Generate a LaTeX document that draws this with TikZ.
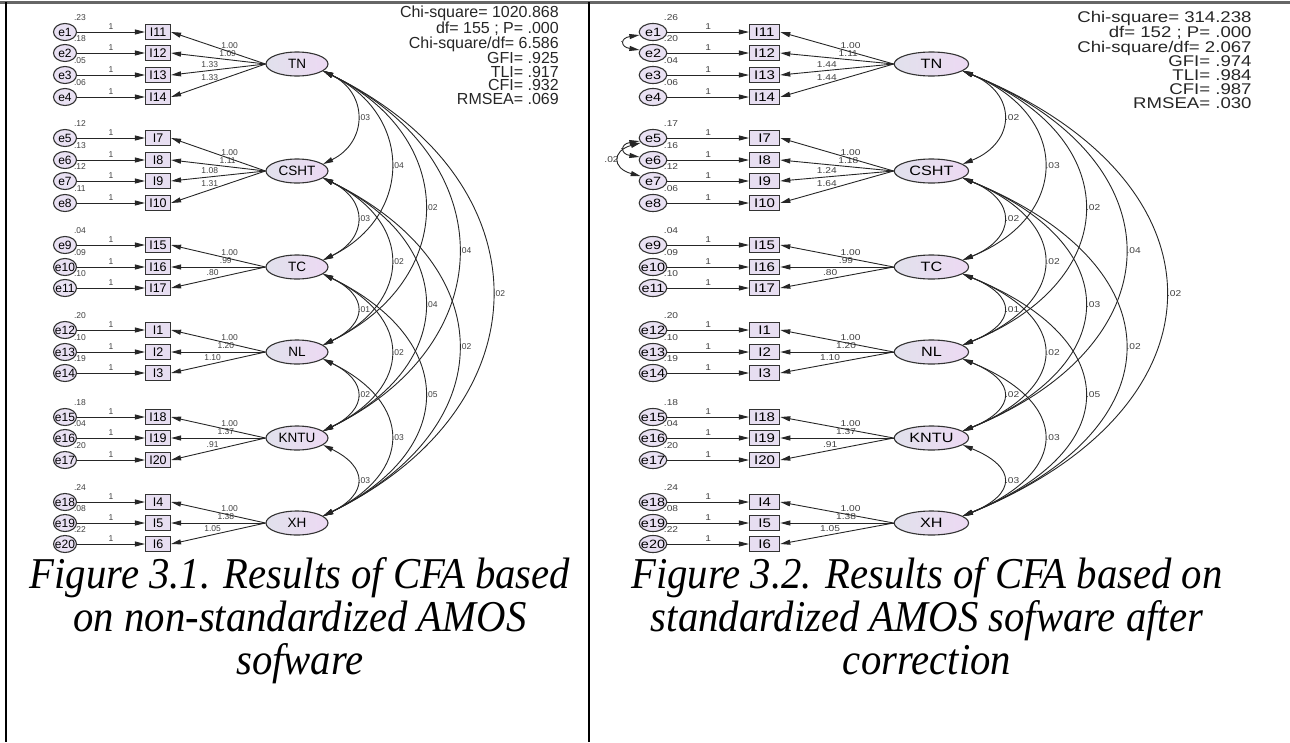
\documentclass[tikz,border=0pt]{standalone}
\usepackage{fontspec}
\setmainfont{Liberation Serif}
\setsansfont{Liberation Sans}
\usetikzlibrary{shapes.geometric,arrows.meta}

\definecolor{errfill}{HTML}{E9E1F3}
\definecolor{itemfill}{HTML}{E7DEF1}
\definecolor{latleft}{HTML}{E1E1EC}
\definecolor{latright}{HTML}{EDD9F3}
\definecolor{edge}{HTML}{333333}

\newcommand{\ez}[1]{\makebox[0pt]{#1}}

\tikzset{
	num/.style = {font=\sffamily\fontsize{8.5}{9}\selectfont, text=black!75, inner sep=1pt},
	err/.style = {ellipse, draw=edge, line width=1.1pt, fill=errfill, minimum width=23, minimum height=17, inner sep=0pt, font=\sffamily\fontsize{12}{12}\selectfont},
	item/.style = {rectangle, draw=edge, line width=1.1pt, fill=itemfill, minimum width=25, minimum height=15, inner sep=1pt, font=\sffamily\fontsize{12.5}{12.5}\selectfont},
	latent/.style = {ellipse, draw=edge, line width=1.1pt, left color=latleft, right color=latright, minimum width=62, minimum height=24, inner sep=0pt, font=\sffamily\fontsize{13.5}{13.5}\selectfont},
	link/.style = {-{Triangle[length=10pt,width=5pt]}, line width=0.9pt, black!85},
	cov/.style = {{Triangle[length=10pt,width=5pt]}-{Triangle[length=10pt,width=5pt]}, line width=0.9pt, black!85},
	stats/.style = {font=\sffamily\fontsize{16}{13.5}\selectfont, align=right, inner sep=0pt, anchor=north east, text=black!85},
	caption/.style = {font=\rmfamily\itshape\fontsize{44}{43}\selectfont, align=center, inner sep=0pt, anchor=north, xscale=0.925}
}

% one AMOS model: #1 prefix, #2 errors, #3 loadings, #4 covariances
\newcommand{\cfamodel}[4]{%
	% factors
	\foreach \fac/\yy in {TN/64,CSHT/171,TC/267,NL/352,KNTU/438,XH/523}
		\node[latent] (#1\fac) at (297,\yy) {\fac};
	% error variances (under the circles)
	\foreach \nr/\yy/\ind/\var in {#2}
		\node[num] at (80,\yy-14) {\var};
	% errors and items
	\foreach \nr/\yy/\ind/\var in {#2}{
		\node[err] (#1e\nr) at (65,\yy) {\ez{e\nr}};
		\node[item] (#1\ind) at (158,\yy) {\ind};
		\draw[link] (#1e\nr) -- node[num, above=1.5pt] {1} (#1\ind);
	}
	% loadings
	\foreach \ind/\fac/\lod/\pp in {#3}
		\draw[link] (#1\fac.west) -- node[num, above=1.5pt, pos=\pp] {\lod} (#1\ind.east);
	% covariances
	\foreach \fa/\fb/\st/\cv in {#4}
		\draw[cov] (#1\fa.-15) .. controls +(45*\st,22*\st) and +(45*\st,-22*\st) .. node[num, right] {\cv} (#1\fb.15);
}

\begin{document}
\begin{tikzpicture}[x=1pt, y=-1pt]
	\useasboundingbox (0,0) rectangle (1290,742);
	
	%	table frame
	\draw[line width=3pt, black!60] (0,2) -- (1290,2);
	\draw[line width=2pt] (6,2) -- (6,742);
	\draw[line width=1.5pt] (589,2) -- (589,742);
	
	%	non-standardized model
	\cfamodel{L}{1/32/I11/.23, 2/53/I12/.18, 3/75/I13/.05, 4/97/I14/.06,
		5/138/I7/.12, 6/160/I8/.13, 7/181/I9/.12, 8/203/I10/.11,
		9/245/I15/.04, 10/267/I16/.09, 11/288/I17/.10,
		12/330/I1/.20, 13/352/I2/.10, 14/373/I3/.19,
		15/417/I18/.18, 16/438/I19/.04, 17/460/I20/.20,
		18/502/I4/.24, 19/523/I5/.08, 20/544/I6/.22}
	{I11/TN/1.00/.38, I12/TN/1.09/.40, I13/TN/1.33/.59, I14/TN/1.33/.59,
		I7/CSHT/1.00/.38, I8/CSHT/1.11/.40, I9/CSHT/1.08/.59, I10/CSHT/1.31/.59,
		I15/TC/1.00/.38, I16/TC/.99/.42, I17/TC/.80/.56,
		I1/NL/1.00/.38, I2/NL/1.20/.42, I3/NL/1.10/.56,
		I18/KNTU/1.00/.38, I19/KNTU/1.37/.42, I20/KNTU/.91/.56,
		I4/XH/1.00/.38, I5/XH/1.38/.42, I6/XH/1.05/.56}
	{TN/CSHT/1/.03, TN/TC/2/.04, TN/NL/3/.02, TN/KNTU/4/.04, TN/XH/5/.02,
		CSHT/TC/1/.03, CSHT/NL/2/.02, CSHT/KNTU/3/.04, CSHT/XH/4/.02,
		TC/NL/1/.01, TC/KNTU/2/.02, TC/XH/3/.05,
		NL/KNTU/1/.02, NL/XH/2/.03, KNTU/XH/1/.03}
	\node[stats] (Lfit) at (559,6) {Chi-square= 1020.868\\df= 155 ; P= .000\\Chi-square/df= 6.586\\GFI= .925\\TLI= .917\\CFI= .932\\RMSEA= .069};
	
	%	standardized model after correction
	\begin{scope}[shift={(575,0)}, xscale=1.2, transform shape]
		\cfamodel{R}{1/32/I11/.26, 2/53/I12/.20, 3/75/I13/.04, 4/97/I14/.06,
			5/138/I7/.17, 6/160/I8/.16, 7/181/I9/.12, 8/203/I10/.06,
			9/245/I15/.04, 10/267/I16/.09, 11/288/I17/.10,
			12/330/I1/.20, 13/352/I2/.10, 14/373/I3/.19,
			15/417/I18/.18, 16/438/I19/.04, 17/460/I20/.20,
			18/502/I4/.24, 19/523/I5/.08, 20/544/I6/.22}
		{I11/TN/1.00/.38, I12/TN/1.11/.40, I13/TN/1.44/.59, I14/TN/1.44/.59,
			I7/CSHT/1.00/.38, I8/CSHT/1.18/.40, I9/CSHT/1.24/.59, I10/CSHT/1.64/.59,
			I15/TC/1.00/.38, I16/TC/.99/.42, I17/TC/.80/.56,
			I1/NL/1.00/.38, I2/NL/1.20/.42, I3/NL/1.10/.56,
			I18/KNTU/1.00/.38, I19/KNTU/1.37/.42, I20/KNTU/.91/.56,
			I4/XH/1.00/.38, I5/XH/1.38/.42, I6/XH/1.05/.56}
		{TN/CSHT/1/.02, TN/TC/2/.03, TN/NL/3/.02, TN/KNTU/4/.04, TN/XH/5/.02,
			CSHT/TC/1/.02, CSHT/NL/2/.02, CSHT/KNTU/3/.03, CSHT/XH/4/.02,
			TC/NL/1/.01, TC/KNTU/2/.02, TC/XH/3/.05,
			NL/KNTU/1/.02, NL/XH/2/.03, KNTU/XH/1/.03}
		%	correlated errors
		\draw[cov] (Re1.195) .. controls +(-16,3) and +(-16,-3) .. node[num, left] {.} (Re2.165);
		\draw[cov] (Re5.195) .. controls +(-16,3) and +(-16,-3) .. node[num, left] {.} (Re6.165);
		\draw[cov] (Re5.205) .. controls +(-24,8) and +(-24,-8) .. node[num, left, inner sep=0pt] {.02} (Re7.155);
		\node[stats, font=\sffamily\fontsize{15.5}{14.2}\selectfont] (Rfit) at (564,11) {Chi-square= 314.238\\df= 152 ; P= .000\\Chi-square/df= 2.067\\GFI= .974\\TLI= .984\\CFI= .987\\RMSEA= .030};
	\end{scope}
	
	%	captions
	\node[caption] (cap1) at (300,557) {Figure 3.1. Results of CFA based\\on non-standardized AMOS\\sofware};
	\node[caption] (cap2) at (927,557) {Figure 3.2. Results of CFA based on\\standardized AMOS sofware after\\correction};
\end{tikzpicture}
\end{document}
